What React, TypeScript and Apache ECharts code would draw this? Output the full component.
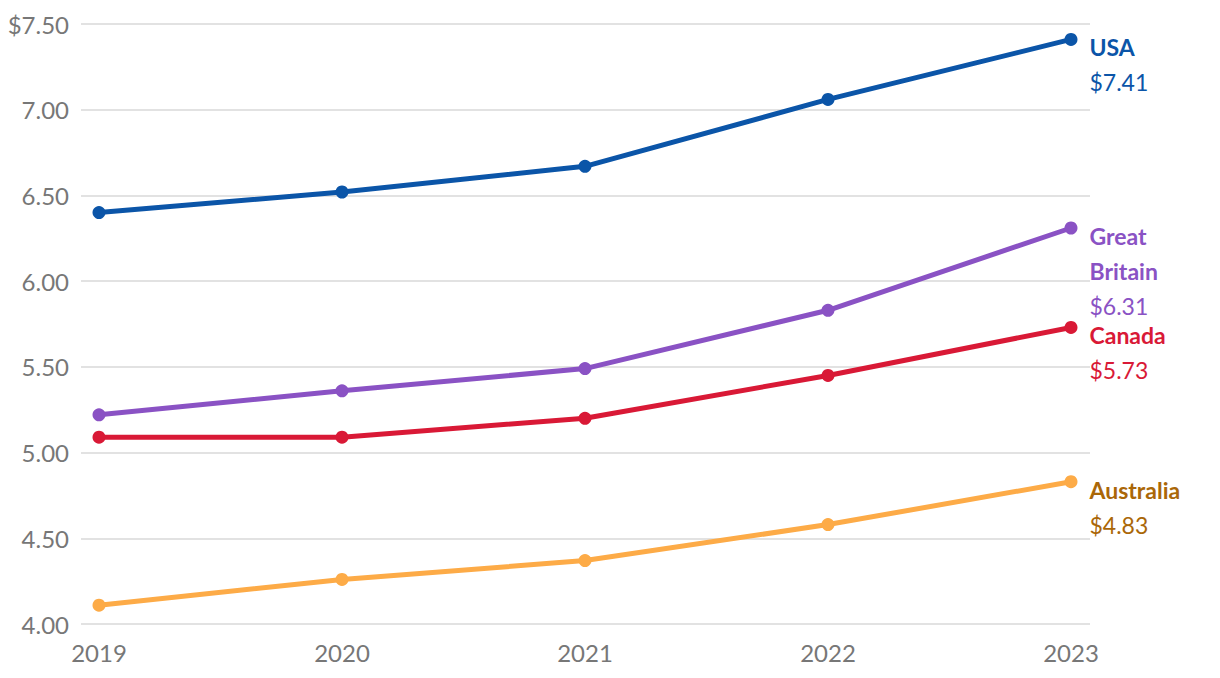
import React, { useEffect, useRef } from "react";
import * as echarts from "echarts";

const years = [2019, 2020, 2021, 2022, 2023];
const usa = [6.40, 6.52, 6.67, 7.06, 7.41];
const greatBritain = [5.22, 5.36, 5.49, 5.83, 6.31];
const canada = [5.09, 5.09, 5.20, 5.45, 5.73];
const australia = [4.11, 4.26, 4.37, 4.58, 4.83];

const seriesDefs = [
  { name: "USA", label: "USA", data: usa, color: "#0b55a8", labelColor: "#0b55a8" },
  { name: "Great Britain", label: "Great\nBritain", data: greatBritain, color: "#8a52c4", labelColor: "#8a52c4" },
  { name: "Canada", label: "Canada", data: canada, color: "#d91936", labelColor: "#d91936" },
  { name: "Australia", label: "Australia", data: australia, color: "#fdab47", labelColor: "#aa6708" },
];

const FONT = "Lato, 'PT Sans', 'Noto Sans', sans-serif";

export default function App() {
  const ref = useRef<HTMLDivElement>(null);
  useEffect(() => {
    document.body.style.margin = "0";
    if (!ref.current) return;
    const chart = echarts.init(ref.current, null, { renderer: "svg" });
    chart.setOption({
      animation: false,
      backgroundColor: "#ffffff",
      grid: { left: 81, right: 130, top: 24, bottom: 54 },
      xAxis: {
        type: "value",
        min: 2019 - 18 / 243,
        max: 2023 + 19 / 243,
        axisLine: { show: false },
        axisTick: { show: false },
        splitLine: { show: false },
        axisLabel: {
          customValues: years,
          formatter: (v: number) => String(Math.round(v)),
          color: "#777777",
          fontSize: 24,
          fontFamily: FONT,
          margin: 16,
        },
      },
      yAxis: {
        type: "value",
        min: 4,
        max: 7.5,
        interval: 0.5,
        axisLine: { show: false },
        axisTick: { show: false },
        splitLine: { lineStyle: { color: "#e2e2e2", width: 2 } },
        axisLabel: {
          formatter: (v: number) => (v === 7.5 ? "$" + v.toFixed(2) : v.toFixed(2)),
          color: "#777777",
          fontSize: 24,
          fontFamily: FONT,
          margin: 12,
        },
      },
      series: seriesDefs.map((s) => ({
        name: s.name,
        type: "line",
        symbol: "circle",
        symbolSize: 13,
        lineStyle: { color: s.color, width: 5 },
        itemStyle: { color: s.color },
        data: s.data.map((v, i) => {
          const item: any = { value: [years[i], v] };
          if (i === s.data.length - 1) {
            item.label = {
              show: true,
              position: [25, -3],
              align: "left",
              verticalAlign: "top",
              formatter: `{n|${s.label.replace("\n", "}\n{n|")}}\n{v|$${v.toFixed(2)}}`,
              rich: {
                n: { fontSize: 23, fontWeight: "bold", color: s.labelColor, fontFamily: FONT, lineHeight: 35 },
                v: { fontSize: 23, color: s.labelColor, fontFamily: FONT, lineHeight: 35 },
              },
            };
          }
          return item;
        }),
      })),
    });
    return () => chart.dispose();
  }, []);
  return <div ref={ref} style={{ width: 1220, height: 678 }} />;
}
